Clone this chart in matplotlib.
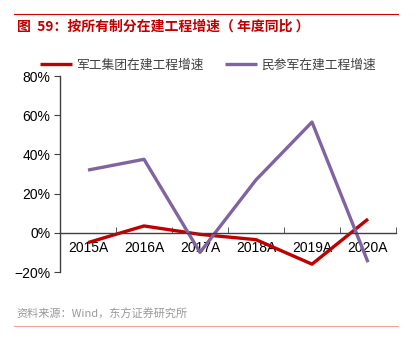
import numpy as np
import matplotlib.pyplot as plt
from matplotlib.ticker import FixedLocator, PercentFormatter

years = ['2015A', '2016A', '2017A', '2018A', '2019A', '2020A']
jungong = [-5.0, 3.5, -0.8, -3.5, -16.0, 7.0]
mincan = [32.0, 37.5, -10.0, 27.0, 56.5, -15.0]

fam = ['Liberation Sans', 'Noto Sans CJK SC', 'DejaVu Sans']
cjk = ['Noto Sans CJK SC', 'DejaVu Sans']
plt.rcParams['font.family'] = fam

fig = plt.figure(figsize=(4.18, 3.59), dpi=100)
ax = fig.add_axes([60/418, 87/359, 336/418, 196/359])

x = np.arange(len(years))
l1, = ax.plot(x, jungong, color='#C00000', lw=2.4, solid_capstyle='butt')
l2, = ax.plot(x, mincan, color='#8064A2', lw=2.4, solid_capstyle='butt')

ax.set_xlim(-0.5, 5.5)
ax.set_ylim(-20, 80)
ax.set_yticks([-20, 0, 20, 40, 60, 80])
ax.yaxis.set_major_formatter(PercentFormatter(decimals=0))
ax.set_axisbelow(True)

for s in ['top', 'right']:
    ax.spines[s].set_visible(False)
ax.spines['bottom'].set_position(('data', 0))
ax.spines['bottom'].set_color('#404040')
ax.spines['left'].set_color('#404040')
ax.spines['left'].set_linewidth(1.0)
ax.spines['bottom'].set_linewidth(1.0)

ax.set_xticks(x)
ax.set_xticklabels(years)
ax.xaxis.set_minor_locator(FixedLocator(np.arange(0.5, 6, 1)))
ax.tick_params(axis='x', which='major', length=0, pad=6, labelsize=10, colors='black')
ax.tick_params(axis='x', which='minor', direction='in', length=4, color='#404040')
ax.tick_params(axis='y', direction='out', length=4, color='#404040', labelsize=10, pad=3)

fig.legend([l1, l2], ['军工集团在建工程增速', '民参军在建工程增速'],
           loc='center left', bbox_to_anchor=(40/418, 1 - 65/359), ncol=2,
           frameon=False, handlelength=2.5, handletextpad=0.3, columnspacing=1.7,
           borderpad=0, prop={'family': cjk, 'size': 9.2}, labelcolor='#404040',
           borderaxespad=0)

fig.add_artist(plt.Line2D([14/418, 398/418], [1 - 14/359, 1 - 14/359], color='#D00000', lw=0.8))
fig.text(17/418, 1 - 27/359, '图  59：按所有制分在建工程增速（ 年度同比 ）', color='#C00000',
         fontsize=10, fontweight='bold', family=cjk, va='center')
fig.text(16/418, 1 - 314/359, '资料来源：Wind，东方证券研究所', color='#999999',
         fontsize=8, family=cjk, va='center')
fig.add_artist(plt.Line2D([14/418, 398/418], [1 - 326/359, 1 - 326/359], color='#F2A0A0', lw=0.8))

fig.savefig('out.png', dpi=100)
